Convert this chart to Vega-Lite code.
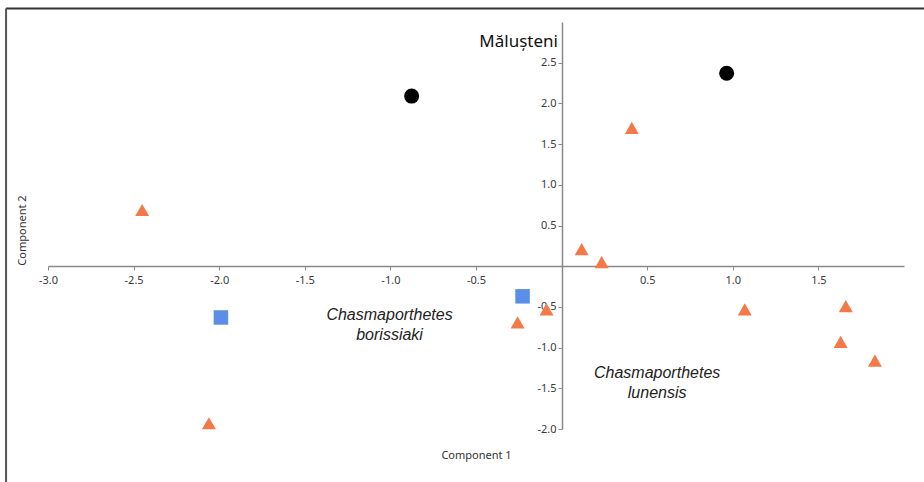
{
  "$schema": "https://vega.github.io/schema/vega-lite/v6.json",
  "width": 856,
  "height": 407,
  "autosize": {"type": "none"},
  "padding": {"left": 48, "top": 22, "right": 20, "bottom": 53},
  "background": "white",
  "config": {"view": {"stroke": null}},
  "datasets": {
    "points": [
      {"c1": -0.876, "c2": 2.09, "group": "Mălușteni"},
      {"c1": 0.964, "c2": 2.37, "group": "Mălușteni"},
      {"c1": -1.99, "c2": -0.63, "group": "C. borissiaki"},
      {"c1": -0.228, "c2": -0.37, "group": "C. borissiaki"},
      {"c1": -2.45, "c2": 0.69, "group": "C. lunensis"},
      {"c1": -2.06, "c2": -1.93, "group": "C. lunensis"},
      {"c1": 0.41, "c2": 1.70, "group": "C. lunensis"},
      {"c1": 0.117, "c2": 0.21, "group": "C. lunensis"},
      {"c1": 0.234, "c2": 0.05, "group": "C. lunensis"},
      {"c1": -0.257, "c2": -0.69, "group": "C. lunensis"},
      {"c1": -0.088, "c2": -0.53, "group": "C. lunensis"},
      {"c1": 1.07, "c2": -0.53, "group": "C. lunensis"},
      {"c1": 1.66, "c2": -0.49, "group": "C. lunensis"},
      {"c1": 1.63, "c2": -0.93, "group": "C. lunensis"},
      {"c1": 1.83, "c2": -1.16, "group": "C. lunensis"}
    ],
    "species": [
      {"c1": -1.005, "c2": -0.60, "text": "Chasmaporthetes\nborissiaki"},
      {"c1": 0.558, "c2": -1.31, "text": "Chasmaporthetes\nlunensis"}
    ],
    "site": [
      {"c1": -0.251, "c2": 2.755, "text": "Mălușteni"}
    ],
    "frame": [{}]
  },
  "layer": [
    {
      "data": {"name": "frame"},
      "mark": {"type": "rule", "color": "#333333", "strokeWidth": 2, "clip": false},
      "encoding": {
        "x": {"datum": -3.245, "type": "quantitative", "scale": {"domain": [-3, 2], "nice": false, "zero": false}},
        "x2": {"datum": 2.3},
        "y": {"datum": 3.167, "type": "quantitative", "scale": {"domain": [-2, 3], "nice": false, "zero": false}}
      }
    },
    {
      "data": {"name": "frame"},
      "mark": {"type": "rule", "color": "#555555", "strokeWidth": 2, "clip": false},
      "encoding": {
        "x": {"datum": -3.245, "type": "quantitative"},
        "y": {"datum": 3.167, "type": "quantitative"},
        "y2": {"datum": -2.8}
      }
    },
    {
      "data": {"name": "points"},
      "mark": {"type": "point", "filled": true, "opacity": 1, "clip": false},
      "encoding": {
        "x": {
          "field": "c1", "type": "quantitative",
          "scale": {"domain": [-3, 2], "nice": false, "zero": false},
          "axis": {
            "orient": "bottom", "offset": -163,
            "values": [-3, -2.5, -2, -1.5, -1, -0.5, 0.5, 1, 1.5],
            "format": ".1f", "labelExpr": "replace(datum.label, '−', '-')", "grid": false,
            "labelFlush": false, "labelOverlap": false,
            "domainColor": "#8a8a8a", "domainWidth": 1.5,
            "tickColor": "#8a8a8a", "tickSize": 4, "tickWidth": 1,
            "labelFont": "Noto Sans", "labelFontSize": 11, "labelColor": "#3a3a3a", "labelPadding": 4,
            "title": "Component 1", "titleFont": "Noto Sans", "titleFontSize": 11,
            "titleFontWeight": "normal", "titleColor": "#333333",
            "titleX": 428, "titleY": 189, "titleBaseline": "middle", "titleAlign": "center"
          }
        },
        "y": {
          "field": "c2", "type": "quantitative",
          "scale": {"domain": [-2, 3], "nice": false, "zero": false},
          "axis": {
            "orient": "left", "offset": -514,
            "values": [-2, -1.5, -1, -0.5, 0.5, 1, 1.5, 2, 2.5],
            "format": ".1f", "labelExpr": "replace(datum.label, '−', '-')", "grid": false,
            "labelFlush": false, "labelOverlap": false,
            "domainColor": "#8a8a8a", "domainWidth": 1.5,
            "tickColor": "#8a8a8a", "tickSize": 4, "tickWidth": 1,
            "labelFont": "Noto Sans", "labelFontSize": 11, "labelColor": "#3a3a3a", "labelPadding": 2,
            "title": "Component 2", "titleFont": "Noto Sans", "titleFontSize": 11,
            "titleFontWeight": "normal", "titleColor": "#333333",
            "titleX": -540, "titleY": 208, "titleBaseline": "middle", "titleAlign": "center", "titleAngle": -90
          }
        },
        "shape": {
          "field": "group", "type": "nominal",
          "scale": {"domain": ["Mălușteni", "C. borissiaki", "C. lunensis"], "range": ["circle", "square", "triangle-up"]},
          "legend": null
        },
        "color": {
          "field": "group", "type": "nominal",
          "scale": {"domain": ["Mălușteni", "C. borissiaki", "C. lunensis"], "range": ["#000000", "#5b8ee6", "#f37a48"]},
          "legend": null
        },
        "size": {
          "field": "group", "type": "nominal",
          "scale": {"domain": ["Mălușteni", "C. borissiaki", "C. lunensis"], "range": [225, 196, 196]},
          "legend": null
        }
      }
    },
    {
      "data": {"name": "species"},
      "mark": {"type": "text", "font": "Liberation Sans", "fontSize": 16, "fontStyle": "italic", "color": "#222222", "lineBreak": "\n", "lineHeight": 20, "align": "center", "baseline": "middle"},
      "encoding": {
        "x": {"field": "c1", "type": "quantitative"},
        "y": {"field": "c2", "type": "quantitative"},
        "text": {"field": "text"}
      }
    },
    {
      "data": {"name": "site"},
      "mark": {"type": "text", "font": "Noto Sans", "fontSize": 17, "color": "#111111", "align": "center", "baseline": "middle"},
      "encoding": {
        "x": {"field": "c1", "type": "quantitative"},
        "y": {"field": "c2", "type": "quantitative"},
        "text": {"field": "text"}
      }
    }
  ]
}
